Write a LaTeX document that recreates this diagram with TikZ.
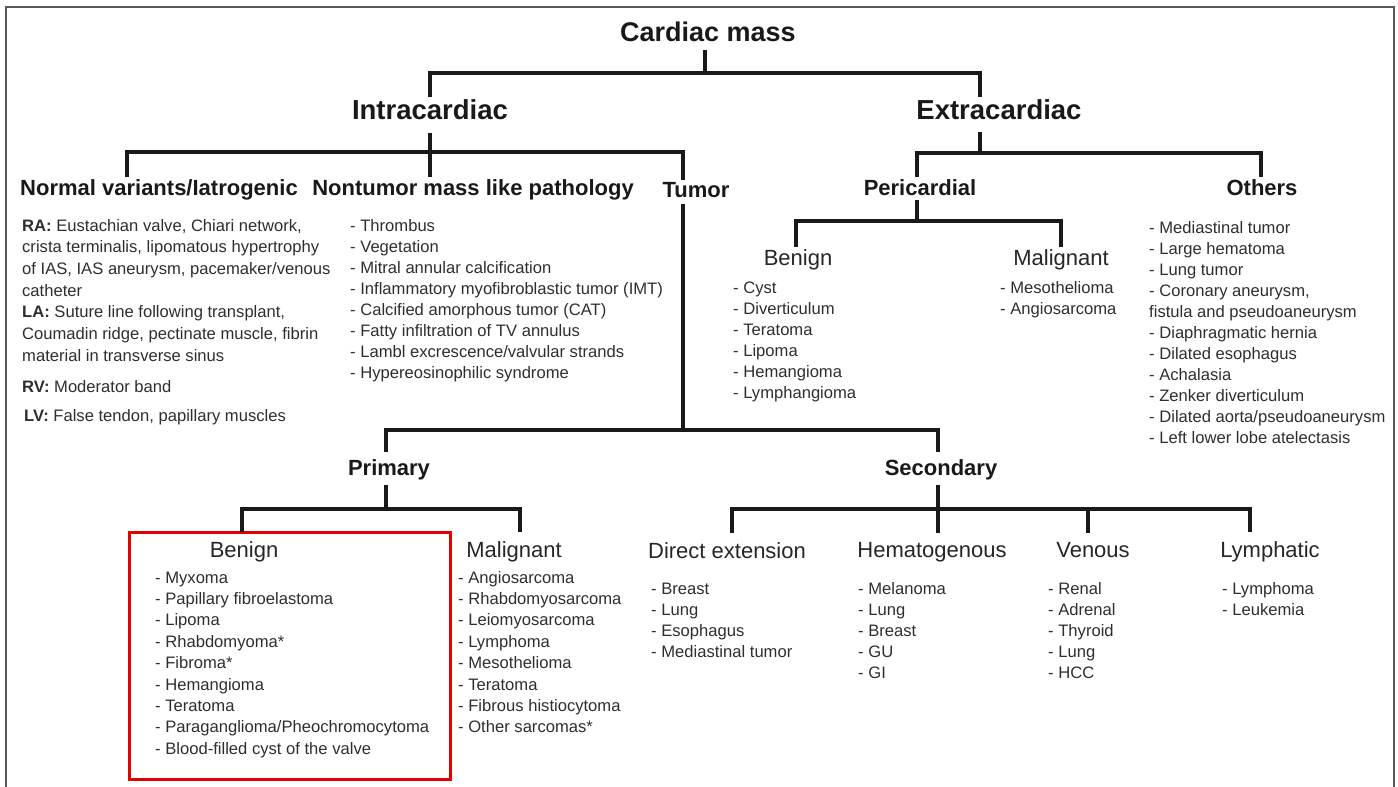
\documentclass[tikz,border=0pt]{standalone}
\usepackage{fontspec}
\setmainfont{Liberation Sans}
\newcommand\itemlist[2]{{\fontsize{16.6}{#1}\selectfont\begin{tabular}[t]{@{}l@{}}#2\end{tabular}}}
\begin{document}
\begin{tikzpicture}[x=1pt,y=-1pt,
  conn/.style={line width=3.2pt, draw=black!90},
  hzero/.style={anchor=base, inner sep=2pt, text=black!90, font=\fontsize{27}{30}\selectfont\bfseries},
  hone/.style={anchor=base, inner sep=2pt, text=black!90, font=\fontsize{27.5}{30}\selectfont\bfseries},
  htwo/.style={anchor=base, inner sep=2pt, text=black!90, font=\fontsize{22}{26}\selectfont\bfseries},
  hthree/.style={anchor=base, inner sep=2pt, text=black!85, font=\fontsize{22}{26}\selectfont},
  lst/.style={anchor=base west, inner sep=0pt, text=black!82},
  framebox/.style={line width=1.6pt, draw=black!65},
  redbox/.style={line width=3pt, draw=red!90!black}
]
\useasboundingbox (0,0) rectangle (1398,787);
\draw[framebox] (6,795) -- (6,7) -- (1394,7) -- (1394,795);

% headings
\node[hzero] (title) at (708,41) {Cardiac mass};
\node[hone] (intra) at (430,119) {Intracardiac};
\node[hone] (extra) at (999,119) {Extracardiac};
\node[htwo] (normal) at (159,195) {Normal variants/Iatrogenic};
\node[htwo] (nontumor) at (473,195) {Nontumor mass like pathology};
\node[htwo] (tumor) at (696,197) {Tumor};
\node[htwo] (peri) at (920,195) {Pericardial};
\node[htwo] (others) at (1262,195) {Others};
\node[hthree] (pben) at (798,265) {Benign};
\node[hthree] (pmal) at (1061,265) {Malignant};
\node[htwo] (primary) at (389,475) {Primary};
\node[htwo] (secondary) at (941,475) {Secondary};
\node[hthree] (bben) at (244,557) {Benign};
\node[hthree] (bmal) at (514,557) {Malignant};
\node[hthree] (direct) at (727,558) {Direct extension};
\node[hthree] (hema) at (932,557) {Hematogenous};
\node[hthree] (venous) at (1093,557) {Venous};
\node[hthree] (lymph) at (1270,557) {Lymphatic};

% lists
\node[lst] (normlist) at (22,231) {\itemlist{21.67}{\textbf{RA:} Eustachian valve, Chiari network,\\
crista terminalis, lipomatous hypertrophy\\
of IAS, IAS aneurysm, pacemaker/venous\\
catheter\\
\textbf{LA:} Suture line following transplant,\\
Coumadin ridge, pectinate muscle, fibrin\\
material in transverse sinus}};
\node[lst] (rv) at (22,392) {\itemlist{21}{\textbf{RV:} Moderator band}};
\node[lst] (lv) at (24,421) {\itemlist{21}{\textbf{LV:} False tendon, papillary muscles}};
\node[lst] (ntlist) at (350,231) {\itemlist{21.14}{- Thrombus\\
- Vegetation\\
- Mitral annular calcification\\
- Inflammatory myofibroblastic tumor (IMT)\\
- Calcified amorphous tumor (CAT)\\
- Fatty infiltration of TV annulus\\
- Lambl excrescence/valvular strands\\
- Hypereosinophilic syndrome}};
\node[lst] (pbenlist) at (733,293) {\itemlist{21}{- Cyst\\
- Diverticulum\\
- Teratoma\\
- Lipoma\\
- Hemangioma\\
- Lymphangioma}};
\node[lst] (pmallist) at (1000,293) {\itemlist{21}{- Mesothelioma\\
- Angiosarcoma}};
\node[lst] (othlist) at (1149,233) {\itemlist{21}{- Mediastinal tumor\\
- Large hematoma\\
- Lung tumor\\
- Coronary aneurysm,\\
fistula and pseudoaneurysm\\
- Diaphragmatic hernia\\
- Dilated esophagus\\
- Achalasia\\
- Zenker diverticulum\\
- Dilated aorta/pseudoaneurysm\\
- Left lower lobe atelectasis}};
\node[lst] (bbenlist) at (155,583) {\itemlist{21.4}{- Myxoma\\
- Papillary fibroelastoma\\
- Lipoma\\
- Rhabdomyoma*\\
- Fibroma*\\
- Hemangioma\\
- Teratoma\\
- Paraganglioma/Pheochromocytoma\\
- Blood-filled cyst of the valve}};
\node[lst] (bmallist) at (458,583) {\itemlist{21.4}{- Angiosarcoma\\
- Rhabdomyosarcoma\\
- Leiomyosarcoma\\
- Lymphoma\\
- Mesothelioma\\
- Teratoma\\
- Fibrous histiocytoma\\
- Other sarcomas*}};
\node[lst] (dirlist) at (651,594) {\itemlist{21}{- Breast\\
- Lung\\
- Esophagus\\
- Mediastinal tumor}};
\node[lst] (hemlist) at (858,594) {\itemlist{21.2}{- Melanoma\\
- Lung\\
- Breast\\
- GU\\
- GI}};
\node[lst] (venlist) at (1048,594) {\itemlist{21.2}{- Renal\\
- Adrenal\\
- Thyroid\\
- Lung\\
- HCC}};
\node[lst] (lymlist) at (1222,594) {\itemlist{21}{- Lymphoma\\
- Leukemia}};

% red box
\draw[redbox] (129,532) rectangle (450,779);

% connector bar levels
\coordinate (y1) at (0,73);
\coordinate (y2) at (0,152);
\coordinate (y3) at (0,153);
\coordinate (y4) at (0,221);
\coordinate (y5) at (0,430);
\coordinate (y6) at (0,509);
\coordinate (y7) at (0,509);

% Cardiac mass
\draw[conn] ([xshift=-3pt,yshift=-7pt]title.south) -- ([xshift=-3pt]title.south |- y1);
\draw[conn] (intra.north) |- ([xshift=-19pt]extra.north |- y1) -- ([xshift=-19pt]extra.north);

% Intracardiac
\draw[conn] ([yshift=-12pt]intra.south) -- (intra.south |- nontumor.north);
\draw[conn] ([xshift=-32pt]normal.north) |- ([xshift=-13pt]tumor.north |- y2) -- ([xshift=-13pt]tumor.north);

% Extracardiac
\draw[conn] ([xshift=-19pt,yshift=-11pt]extra.south) -- ([xshift=-19pt]extra.south |- y3);
\draw[conn] ([xshift=-3pt]peri.north) |- ([xshift=-1pt]others.north |- y3) -- ([xshift=-1pt]others.north);

% Pericardial
\draw[conn] ([xshift=-3pt,yshift=-3pt]peri.south) -- ([xshift=-3pt]peri.south |- y4);
\draw[conn] ([xshift=-2pt]pben.north) |- (pmal.north |- y4) -- (pmal.north);

% Tumor
\draw[conn] ([xshift=-13pt,yshift=-5pt]tumor.south) -- ([xshift=-13pt]tumor.south |- y5);
\draw[conn] ([xshift=-3pt,yshift=5pt]primary.north) |- ([xshift=-3pt]secondary.north |- y5) -- ([xshift=-3pt,yshift=5pt]secondary.north);

% Primary
\draw[conn] ([xshift=-3pt,yshift=-3pt]primary.south) -- ([xshift=-3pt]primary.south |- y6);
\draw[conn] ([xshift=-2pt,yshift=7pt]bben.north) |- ([xshift=6pt]bmal.north |- y6) -- ([xshift=6pt,yshift=7pt]bmal.north);

% Secondary
\draw[conn] ([xshift=-3pt,yshift=-3pt]secondary.south) -- ([xshift=-3pt]secondary.south |- y7);
\draw[conn] ([xshift=5pt,yshift=7pt]direct.north) |- ([xshift=-20pt]lymph.north |- y7) -- ([xshift=-20pt,yshift=7pt]lymph.north);
\draw[conn] ([xshift=6pt,yshift=7pt]hema.north) -- ([xshift=6pt]hema.north |- y7);
\draw[conn] ([xshift=-5pt,yshift=7pt]venous.north) -- ([xshift=-5pt]venous.north |- y7);
\end{tikzpicture}
\end{document}
